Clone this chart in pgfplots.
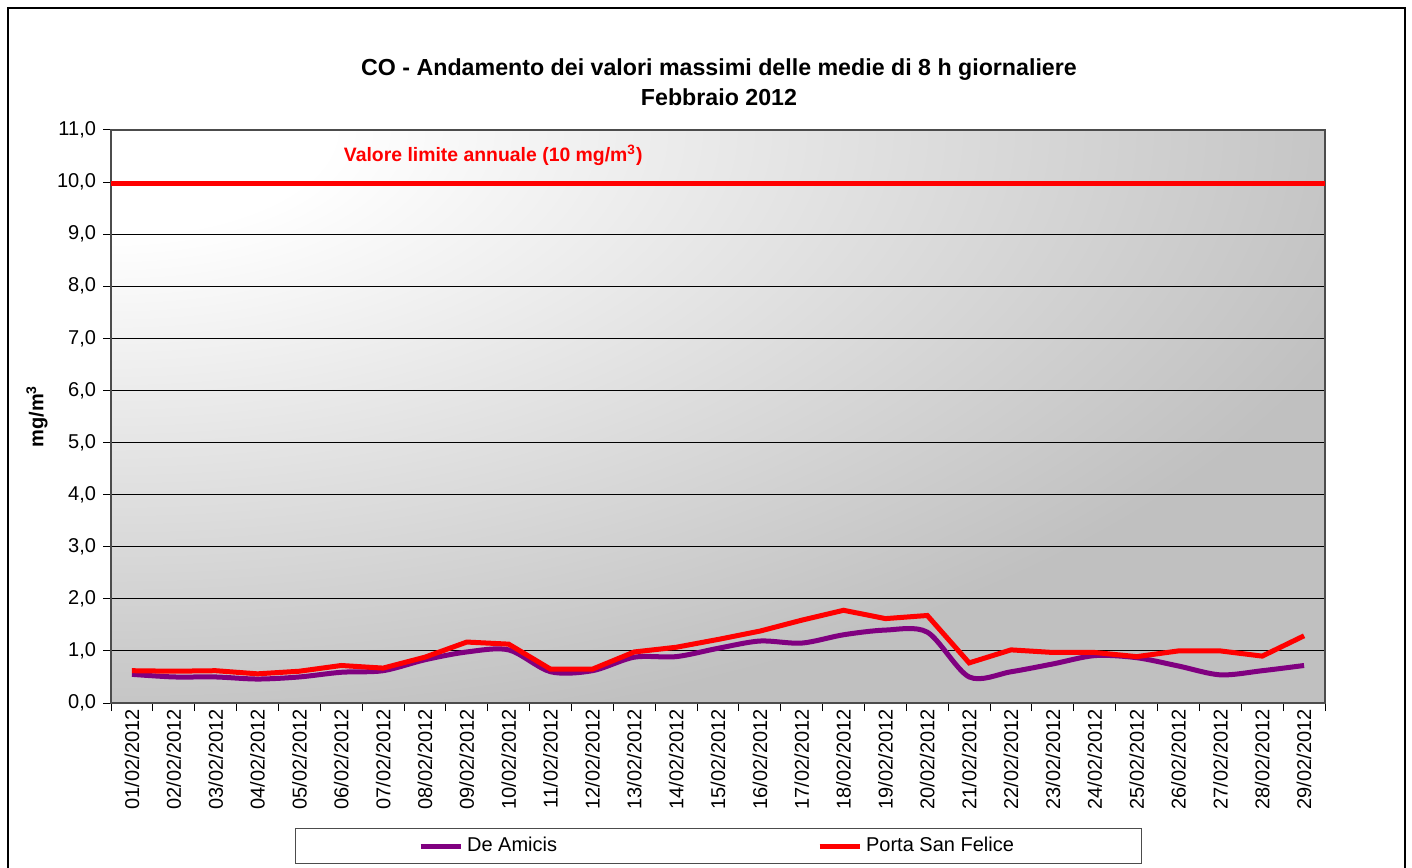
\documentclass[border=0pt]{standalone}
\usepackage{pgfplots}
\pgfplotsset{compat=1.18}
\usepackage{fontspec}
\setmainfont{Liberation Sans}
\definecolor{deamicis}{HTML}{800080}
\definecolor{psf}{HTML}{FF0000}
\definecolor{plotgray}{HTML}{C0C0C0}
\pgfdeclareradialshading{cornershade}{\pgfpoint{0bp}{0bp}}{color(0bp)=(white); color(4.5bp)=(white); color(27bp)=(plotgray); color(50bp)=(plotgray)}
\begin{document}
\begin{tikzpicture}
\useasboundingbox (-55.5pt,-82pt) rectangle (650.5pt,351.5pt);
\fill[white] (-55.5pt,-82pt) rectangle (650.5pt,351.5pt);
\draw[black, line width=0.8pt] (-51.5pt,-90pt) rectangle (647pt,347.5pt);
\begin{scope}
\clip (0pt,0pt) rectangle (607pt,286.5pt);
\shade[shading=cornershade] (-607pt,0pt) rectangle (607pt,573pt);
\end{scope}
\begin{axis}[at={(0,0)}, anchor=south west, scale only axis,
  width=607pt, height=286.5pt,
  xmin=0.5, xmax=29.5, ymin=0, ymax=11,
  axis line style={draw=gray!60!black, line width=0.6pt},
  tick align=outside, major tick length=4pt,
  tick style={draw=black, line width=0.5pt},
  xtick pos=bottom, ytick pos=left,
  xtick={0.5,1.5,...,29.5}, xticklabels={},
  extra x ticks={1,...,29},
  extra x tick labels={01/02/2012,02/02/2012,03/02/2012,04/02/2012,05/02/2012,06/02/2012,07/02/2012,08/02/2012,09/02/2012,10/02/2012,11/02/2012,12/02/2012,13/02/2012,14/02/2012,15/02/2012,16/02/2012,17/02/2012,18/02/2012,19/02/2012,20/02/2012,21/02/2012,22/02/2012,23/02/2012,24/02/2012,25/02/2012,26/02/2012,27/02/2012,28/02/2012,29/02/2012},
  extra x tick style={major tick length=0pt, grid=none},
  xticklabel style={rotate=90, anchor=east, inner sep=3pt},
  ytick={0,...,11},
  ymajorgrids, grid style={black, line width=0.5pt},
  tick label style={font=\fontsize{10}{12}\selectfont},
  yticklabel style={/pgf/number format/.cd, fixed, fixed zerofill, precision=1, use comma, assume math mode=true},
  legend columns=2,
  legend style={at={(0.5,-0.2496)}, anchor=center, draw=black!70, fill=white,
    font=\fontsize{10}{12}\selectfont, inner xsep=61.5pt, inner ysep=2.5pt,
    /tikz/every even column/.append style={column sep=128pt}},
  legend image code/.code={\draw[#1] (0pt,0pt) -- (20pt,0pt);},
  legend cell align=left,
]
\addplot[psf, line width=2.5pt, forget plot] coordinates {(0.5,9.97) (29.5,9.97)};
\addplot[deamicis, line width=2.5pt, smooth, tension=0.5] coordinates {
(1,0.55) (2,0.50) (3,0.50) (4,0.46) (5,0.50) (6,0.59) (7,0.62) (8,0.83) (9,0.98) (10,1.02)
(11,0.60) (12,0.62) (13,0.88) (14,0.89) (15,1.05) (16,1.19) (17,1.15) (18,1.31) (19,1.40) (20,1.36)
(21,0.50) (22,0.60) (23,0.75) (24,0.91) (25,0.87) (26,0.71) (27,0.54) (28,0.62) (29,0.72)};
\addlegendentry{De Amicis}
\addplot[psf, line width=2.5pt] coordinates {
(1,0.62) (2,0.61) (3,0.62) (4,0.56) (5,0.61) (6,0.72) (7,0.67) (8,0.88) (9,1.17) (10,1.13)
(11,0.65) (12,0.65) (13,0.98) (14,1.07) (15,1.22) (16,1.38) (17,1.59) (18,1.78) (19,1.62) (20,1.68)
(21,0.77) (22,1.02) (23,0.97) (24,0.97) (25,0.89) (26,1.00) (27,1.00) (28,0.90) (29,1.29)};
\addlegendentry{Porta San Felice}
\node[psf, font=\bfseries\fontsize{9.7}{12}\selectfont] at (axis cs:9.63,10.52) {Valore limite annuale (10 mg/m\textsuperscript{3})};
\end{axis}
\node[font=\bfseries\fontsize{11.6}{14}\selectfont] at (304pt,316.5pt) {CO - Andamento dei valori massimi delle medie di 8 h giornaliere};
\node[font=\bfseries\fontsize{11.6}{14}\selectfont] at (304pt,303pt) {Febbraio 2012};
\node[font=\bfseries\fontsize{10}{12}\selectfont, rotate=90] at (-37pt,143.25pt) {mg/m\textsuperscript{3}};
\end{tikzpicture}
\end{document}
